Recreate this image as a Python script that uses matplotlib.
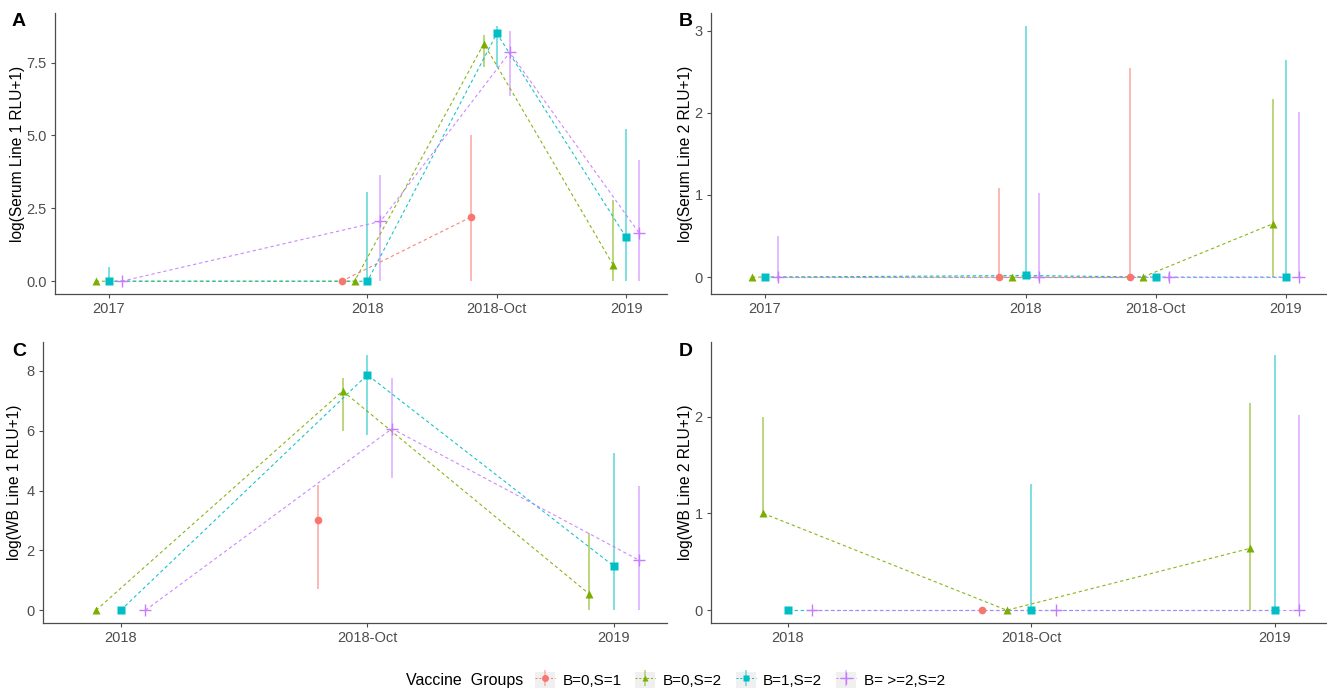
import matplotlib
matplotlib.use("Agg")
import matplotlib.pyplot as plt
import matplotlib.patches as mpatches
from matplotlib.lines import Line2D
from matplotlib.legend_handler import HandlerTuple
import numpy as np

plt.rcParams['font.family'] = ['Liberation Sans', 'DejaVu Sans']

nan = np.nan

groups = ["B=0,S=1", "B=0,S=2", "B=1,S=2", "B= >=2,S=2"]
colors = ["#F8766D", "#7CAE00", "#00BFC4", "#C77CFF"]
markers = ["o", "^", "s", "+"]

times_ab = ["2017", "2018", "2018-Oct", "2019"]
pos_ab = [0, 2, 3, 4]
times_cd = ["2018", "2018-Oct", "2019"]
pos_cd = [0, 1, 2]

# panel A: log(Serum Line 1 RLU+1)
a_mean = [[nan, 0, 2.2, nan], [0, 0, 8.15, 0.55], [0, 0, 8.5, 1.5], [0, 2.05, 7.85, 1.65]]
a_lo = [[nan, 0, 0, nan], [0, 0, 7.35, 0], [0, 0, 7.33, 0], [0, 0, 6.34, 0]]
a_hi = [[nan, 0, 5.0, nan], [0, 0, 8.45, 2.8], [0.48, 3.05, 8.76, 5.22], [0, 3.64, 8.59, 4.15]]

# panel B: log(Serum Line 2 RLU+1)
b_mean = [[nan, 0, 0, nan], [0, 0, 0, 0.65], [0, 0.02, 0, 0], [0, 0, 0, 0]]
b_lo = [[nan, 0, 0, nan], [0, 0, 0, 0], [0, 0, 0, 0], [-0.05, -0.05, -0.05, 0]]
b_hi = [[nan, 1.09, 2.55, nan], [0, 0, 0, 2.17], [0, 3.06, 0, 2.64], [0.5, 1.02, 0.05, 2.01]]

# panel C: log(WB Line 1 RLU+1)
c_mean = [[nan, 3.0, nan], [0, 7.33, 0.54], [0, 7.87, 1.47], [0, 6.07, 1.68]]
c_lo = [[nan, 0.7, nan], [0, 5.98, 0], [0, 5.87, 0], [0, 4.42, 0]]
c_hi = [[nan, 4.2, nan], [0, 7.77, 2.57], [0, 8.54, 5.24], [0, 7.78, 4.16]]

# panel D: log(WB Line 2 RLU+1)
d_mean = [[nan, 0, nan], [1.0, 0, 0.64], [0, 0, 0], [0, 0, 0]]
d_lo = [[nan, 0, nan], [1.0, 0, 0], [0, 0, 0], [0, 0, 0]]
d_hi = [[nan, 0, nan], [2.0, 0, 2.14], [0, 1.30, 2.64], [0, 0, 2.02]]

dodge = [-0.2, -0.1, 0.0, 0.1]

W, H = 1327, 688
fig = plt.figure(figsize=(W / 100, H / 100), dpi=100)


def add_ax(left, right, top, bottom):
    return fig.add_axes([left / W, 1 - bottom / H, (right - left) / W, (bottom - top) / H])


def draw_panel(ax, pos, ticks, mean, lo, hi, ylabel, xlim, pad):
    for g in range(len(groups)):
        x = np.array(pos, dtype=float) + dodge[g]
        m = np.array(mean[g], dtype=float)
        ax.vlines(x, lo[g], hi[g], color=colors[g], lw=1.3, alpha=0.55, zorder=2)
        ax.plot(x, m, ls=(0, (3, 2.5)), lw=0.8, color=colors[g], alpha=0.9, zorder=3)
        if markers[g] == "+":
            ax.plot(x, m, ls="none", marker="+", ms=8.5, mew=1.0, color=colors[g], zorder=4)
        else:
            ax.plot(x, m, ls="none", marker=markers[g], ms=5.5, color=colors[g],
                    mec="none", zorder=4)
    ax.set_xlim(*xlim)
    ax.margins(y=0.05)
    ax.set_xticks(pos)
    ax.set_xticklabels(ticks)
    for s in ["top", "right"]:
        ax.spines[s].set_visible(False)
    for s in ["left", "bottom"]:
        ax.spines[s].set_color("#4D4D4D")
        ax.spines[s].set_linewidth(0.9)
    ax.tick_params(colors="#4D4D4D", labelsize=10.5, length=3, width=0.8, pad=3)
    ax.set_ylabel(ylabel, fontsize=11.2, color="black", labelpad=pad)


ax_a = add_ax(55, 667, 13, 294)
ax_b = add_ax(711, 1327, 13, 294)
ax_c = add_ax(43, 667, 342, 623)
ax_d = add_ax(711, 1327, 342, 623)

draw_panel(ax_a, pos_ab, times_ab, a_mean, a_lo, a_hi, "log(Serum Line 1 RLU+1)", (-0.415, 4.315), 1)
ax_a.set_yticks([0, 2.5, 5.0, 7.5])
ax_a.set_yticklabels(["0.0", "2.5", "5.0", "7.5"])
draw_panel(ax_b, pos_ab, times_ab, b_mean, b_lo, b_hi, "log(Serum Line 2 RLU+1)", (-0.415, 4.315), 1)
ax_b.set_yticks([0, 1, 2, 3])
draw_panel(ax_c, pos_cd, times_cd, c_mean, c_lo, c_hi, "log(WB Line 1 RLU+1)", (-0.315, 2.215), 3)
ax_c.set_yticks([0, 2, 4, 6, 8])
draw_panel(ax_d, pos_cd, times_cd, d_mean, d_lo, d_hi, "log(WB Line 2 RLU+1)", (-0.315, 2.215), 1)
ax_d.set_yticks([0, 1, 2])

for letter, px, py in [("A", 12, 22), ("B", 679, 22), ("C", 12, 351), ("D", 679, 351)]:
    fig.text(px / W, 1 - py / H, letter, fontsize=14, fontweight="bold", ha="left", va="center")

# legend
handles = []
for g in range(len(groups)):
    bg = mpatches.Patch(facecolor="#F0F0F0", edgecolor="none")
    bar = Line2D([], [], ls="none", marker="|", ms=12, mew=1.2, color=colors[g], alpha=0.5)
    if markers[g] == "+":
        pt = Line2D([], [], ls=(0, (2, 2)), lw=0.7, marker="+", ms=9, mew=1.0, color=colors[g])
    else:
        pt = Line2D([], [], ls=(0, (2, 2)), lw=0.7, marker=markers[g], ms=5, mec="none", color=colors[g])
    handles.append((bg, bar, pt))

fig.text(406 / W, 1 - 680 / H, "Vaccine  Groups", fontsize=11.5, va="center", ha="left")
fig.legend(handles, groups, handler_map={tuple: HandlerTuple(ndivide=1)},
           loc="center left", bbox_to_anchor=(535 / W, 1 - 680 / H), ncol=4,
           frameon=False, fontsize=11, handlelength=1.3, handleheight=1.3,
           handletextpad=0.5, columnspacing=0.9, borderpad=0, borderaxespad=0)

fig.savefig("out.png", dpi=100)
